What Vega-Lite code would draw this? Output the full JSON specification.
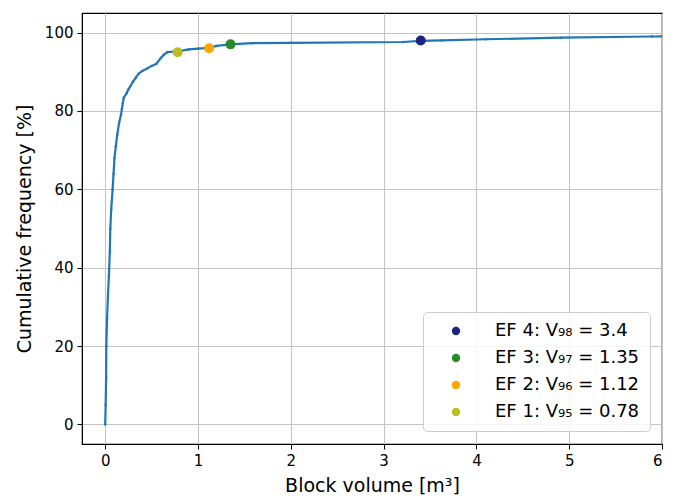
{
  "$schema": "https://vega.github.io/schema/vega-lite/v6.json",
  "autosize": {"type": "none"},
  "padding": {"left": 82, "top": 13, "right": 13, "bottom": 54},
  "width": 580,
  "height": 431,
  "background": "white",
  "config": {
    "font": "DejaVu Sans",
    "view": {"stroke": "black", "strokeWidth": 1.2},
    "axis": {
      "labelFont": "DejaVu Sans",
      "labelFontSize": 15,
      "labelColor": "black",
      "titleFont": "DejaVu Sans",
      "titleFontSize": 19,
      "titleFontWeight": "normal",
      "titleColor": "black",
      "domainColor": "black",
      "tickColor": "black",
      "tickSize": 5,
      "labelPadding": 4,
      "grid": true,
      "gridColor": "#c4c4c4",
      "gridWidth": 1
    }
  },
  "datasets": {
    "curve": [
      {"volume": 0, "freq": 0},
      {"volume": 0.005, "freq": 5},
      {"volume": 0.01, "freq": 12},
      {"volume": 0.012, "freq": 20},
      {"volume": 0.02, "freq": 27},
      {"volume": 0.03, "freq": 33},
      {"volume": 0.04, "freq": 38},
      {"volume": 0.05, "freq": 44},
      {"volume": 0.055, "freq": 50},
      {"volume": 0.065, "freq": 55},
      {"volume": 0.08, "freq": 60},
      {"volume": 0.09, "freq": 64},
      {"volume": 0.1, "freq": 68},
      {"volume": 0.115, "freq": 71},
      {"volume": 0.13, "freq": 74},
      {"volume": 0.15, "freq": 77},
      {"volume": 0.17, "freq": 79},
      {"volume": 0.18, "freq": 80.5},
      {"volume": 0.19, "freq": 82},
      {"volume": 0.2, "freq": 83.4},
      {"volume": 0.23, "freq": 84.5},
      {"volume": 0.25, "freq": 85.5},
      {"volume": 0.27, "freq": 86.3},
      {"volume": 0.3, "freq": 87.5},
      {"volume": 0.33, "freq": 88.5},
      {"volume": 0.36, "freq": 89.5},
      {"volume": 0.4, "freq": 90.2},
      {"volume": 0.45, "freq": 90.8},
      {"volume": 0.5, "freq": 91.5},
      {"volume": 0.55, "freq": 92},
      {"volume": 0.6, "freq": 93.5},
      {"volume": 0.63, "freq": 94.3},
      {"volume": 0.67, "freq": 95},
      {"volume": 0.78, "freq": 95.2},
      {"volume": 0.9, "freq": 95.7},
      {"volume": 1.0, "freq": 95.9},
      {"volume": 1.12, "freq": 96.1},
      {"volume": 1.2, "freq": 96.6},
      {"volume": 1.35, "freq": 97},
      {"volume": 1.58, "freq": 97.3},
      {"volume": 2.0, "freq": 97.4},
      {"volume": 3.21, "freq": 97.6},
      {"volume": 3.4, "freq": 97.9},
      {"volume": 3.63, "freq": 98},
      {"volume": 4.1, "freq": 98.3},
      {"volume": 4.91, "freq": 98.7},
      {"volume": 5.89, "freq": 99},
      {"volume": 6.0, "freq": 99.05}
    ],
    "ef": [
      {"label": "EF 4: V₉₈ = 3.4", "volume": 3.4, "freq": 98},
      {"label": "EF 3: V₉₇ = 1.35", "volume": 1.35, "freq": 97},
      {"label": "EF 2: V₉₆ = 1.12", "volume": 1.12, "freq": 96},
      {"label": "EF 1: V₉₅ = 0.78", "volume": 0.78, "freq": 95}
    ]
  },
  "layer": [
    {
      "data": {"name": "curve"},
      "mark": {"type": "line", "color": "#1f77b4", "strokeWidth": 2.2, "clip": true,
               "point": {"filled": true, "size": 6, "color": "#1f77b4"}},
      "encoding": {
        "x": {"field": "volume", "type": "quantitative",
              "scale": {"domain": [-0.25, 6], "nice": false, "zero": false},
              "axis": {"values": [0, 1, 2, 3, 4, 5, 6], "format": "d", "title": "Block volume [m³]", "titlePadding": 8}},
        "y": {"field": "freq", "type": "quantitative",
              "scale": {"domain": [-5, 105], "nice": false, "zero": false},
              "axis": {"values": [0, 20, 40, 60, 80, 100], "format": "d", "title": "Cumulative frequency [%]", "titlePadding": 10}},
        "order": {"field": "volume", "type": "quantitative"}
      }
    },
    {
      "data": {"name": "ef"},
      "mark": {"type": "point", "filled": true, "shape": "circle", "size": 100, "opacity": 1},
      "encoding": {
        "x": {"field": "volume", "type": "quantitative"},
        "y": {"field": "freq", "type": "quantitative"},
        "color": {
          "field": "label", "type": "nominal",
          "scale": {
            "domain": ["EF 4: V₉₈ = 3.4", "EF 3: V₉₇ = 1.35", "EF 2: V₉₆ = 1.12", "EF 1: V₉₅ = 0.78"],
            "range": ["#1c247f", "#2a8a2a", "#ffa500", "#bcbd22"]
          },
          "legend": {
            "title": null,
            "orient": "none",
            "legendX": 341,
            "legendY": 299,
            "padding": 10,
            "symbolType": "circle",
            "symbolSize": 70,
            "symbolOffset": 14,
            "labelOffset": 30,
            "labelFont": "DejaVu Sans",
            "labelFontSize": 18,
            "labelColor": "black",
            "rowPadding": 9,
            "fillColor": "rgba(255,255,255,0.85)",
            "strokeColor": "#cccccc",
            "cornerRadius": 4,
            "symbolStrokeWidth": 0
          }
        }
      }
    }
  ]
}
